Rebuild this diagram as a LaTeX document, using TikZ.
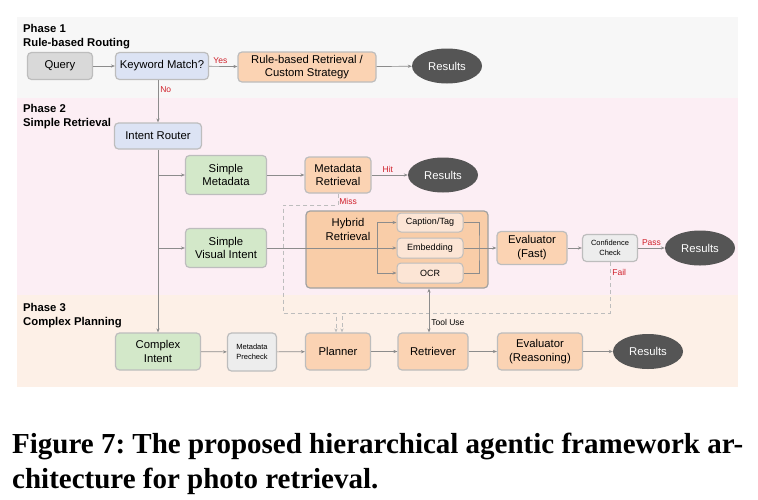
\documentclass[tikz,border=0pt]{standalone}
\usepackage{fontspec}
\setmainfont{Liberation Sans}
\newfontfamily\capfont{Liberation Serif}
\usepackage{xcolor}
\usetikzlibrary{arrows.meta,positioning,shapes.geometric,calc}
\frenchspacing
\definecolor{bandOne}{HTML}{F7F7F7}
\definecolor{bandTwo}{HTML}{FCEEF4}
\definecolor{bandThree}{HTML}{FDF0E7}
\definecolor{boxGrey}{HTML}{D9D9D9}
\definecolor{boxBlue}{HTML}{DCE3F4}
\definecolor{boxOrange}{HTML}{FBD3B3}
\definecolor{boxHybrid}{HTML}{F9CDA8}
\definecolor{boxGreen}{HTML}{D3E8C9}
\definecolor{boxLight}{HTML}{FCE5D5}
\definecolor{boxCheck}{HTML}{EDEDED}
\definecolor{boxDark}{HTML}{555555}
\definecolor{lineGrey}{HTML}{8C8C8C}
\definecolor{edgeGrey}{HTML}{BDBDBD}
\definecolor{labRed}{HTML}{D0202A}

\begin{document}
\begin{tikzpicture}[
  x=1pt, y=-1pt, >={Stealth[length=4pt,width=3.2pt]},
  sz/.style 2 args={minimum width=#1pt, minimum height=#2pt},
  box/.style={draw=edgeGrey, line width=1.2pt, rounded corners=4pt, align=center, inner sep=1pt, font=\fontsize{11.3}{13.5}\selectfont},
  small/.style={font=\fontsize{7.5}{10}\selectfont},
  res/.style={ellipse, fill=boxDark, text=white, inner sep=0pt, sz={70}{35}, font=\fontsize{11.3}{13.5}\selectfont},
  conn/.style={draw=lineGrey, line width=0.7pt},
  missline/.style={draw=edgeGrey, line width=0.8pt, dash pattern=on 4pt off 3pt, ->},
  lab/.style={font=\fontsize{8.5}{10}\selectfont, text=labRed, inner sep=2pt},
  phase/.style={font=\bfseries\fontsize{11.3}{14}\selectfont, align=left, anchor=north west, inner sep=0pt}
]
\useasboundingbox (0,0) rectangle (758,499);
% phase bands
\fill[bandOne] (17,17) rectangle (738,98);
\fill[bandTwo] (17,98) rectangle (738,295);
\fill[bandThree] (17,295) rectangle (738,387);
\node[phase] (p1) at (23,24) {Phase 1\\Rule-based Routing};
\node[phase] (p2) at (23,104) {Phase 2\\Simple Retrieval};
\node[phase] (p3) at (23,303) {Phase 3\\Complex Planning};

% phase 1
\node[box, sz={65}{27}, fill=boxGrey] (query) at (60,66) {Query};
\node[box, sz={93}{27}, fill=boxBlue] (kw) at (162,66) {Keyword Match?};
\node[box, sz={138}{30}, fill=boxOrange] (rule) at (307,67) {Rule-based Retrieval /\\Custom Strategy};
\node[res] (res1) at (447,66) {Results};

% phase 2
\node[box, sz={87}{26}, fill=boxBlue] (router) at (158,136) {Intent Router};
\node[box, sz={81}{39}, fill=boxGreen] (smeta) at (226,175) {Simple\\Metadata};
\node[box, sz={66}{36}, fill=boxOrange] (metaret) at (338,175) {Metadata\\Retrieval};
\node[res] (res2) at (443,175) {Results};
\node[box, sz={81}{39}, fill=boxGreen] (svis) at (226,248) {Simple\\Visual Intent};
\node[box, sz={182}{77}, fill=boxHybrid, draw=edgeGrey!85!black] (hyb) at (397,249.5) {};
\node[align=center, font=\fontsize{11.3}{14}\selectfont] (hyblab) at (348,229) {Hybrid\\Retrieval};
\node[box, sz={66}{19}, fill=boxLight, line width=1pt, font=\fontsize{9}{11}\selectfont] (cap) at (430,222.5) {Caption/Tag};
\node[box, sz={66}{20}, fill=boxLight, line width=1pt, font=\fontsize{9}{11}\selectfont] (emb) at (430,248) {Embedding};
\node[box, sz={66}{20}, fill=boxLight, line width=1pt, font=\fontsize{9}{11}\selectfont] (ocr) at (430,273) {OCR};
\node[box, sz={70}{33}, fill=boxOrange, font=\fontsize{11.3}{14}\selectfont] (evfast) at (532,248) {Evaluator\\(Fast)};
\node[box, sz={55}{27}, fill=boxCheck, small] (conf) at (610,248) {Confidence\\Check};
\node[res] (res3) at (700,248) {Results};

% phase 3
\node[box, sz={85}{37}, fill=boxGreen] (complex) at (158,351.5) {Complex\\Intent};
\node[box, sz={49}{38}, fill=boxCheck, small] (precheck) at (252,352) {Metadata\\Precheck};
\node[box, sz={65}{37}, fill=boxOrange] (planner) at (338,351.5) {Planner};
\node[box, sz={70}{37}, fill=boxOrange] (retr) at (433,351.5) {Retriever};
\node[box, sz={85}{37}, fill=boxOrange] (evreason) at (540,351.5) {Evaluator\\(Reasoning)};
\node[res] (res4) at (648,351.5) {Results};

% turning points
\coordinate (split) at (377,248);
\coordinate (merge) at (479,248);
\coordinate (mc) at (283,205);
\coordinate (ml) at (336,313);
\coordinate (fr) at (342,313);
\coordinate (tu) at (429,310);

% connectors
\draw[conn, ->] (query) -- (kw);
\draw[conn, ->] (kw) -- node[lab, above, pos=0.4]{Yes} (rule);
\draw[conn, ->] (rule) -- (res1);
\draw[conn, ->] (kw.south -| router) -- node[lab, right, pos=0.23]{No} (router.north);
\draw[conn, ->] (router) -- (complex);
\draw[conn, ->] (router |- smeta) -- (smeta);
\draw[conn, ->] (router |- svis) -- (svis);
\draw[conn, ->] (smeta) -- (metaret);
\draw[conn, ->] (metaret) -- node[lab, above, pos=0.45]{Hit} (res2);
\draw[conn, ->] (svis) -- (emb);
\draw[conn, ->] (split) |- (cap);
\draw[conn, ->] (split) |- (ocr);
\draw[conn] (cap) -| (merge) |- (ocr);
\draw[conn, ->] (emb) -- (evfast);
\draw[conn, ->] (evfast) -- (conf);
\draw[conn, ->] (conf) -- node[lab, above]{Pass} (res3);
\draw[missline] (metaret.south) |- node[lab, right, pos=0.35, inner sep=1pt]{Miss} (mc) |- (ml) -- (ml |- planner.north);
\draw[missline] (conf.south) |- node[lab, right, pos=0.1, inner sep=2pt]{Fail} (fr) -- (fr |- planner.north);
\draw[conn, <->] (tu |- hyb.south) -- node[right, pos=0.77, font=\fontsize{8.5}{10}\selectfont, inner sep=2pt]{Tool Use} (tu |- retr.north);
\draw[conn, ->] (complex) -- (precheck);
\draw[conn, ->] (precheck) -- (planner);
\draw[conn, ->] (planner) -- (retr);
\draw[conn, ->] (retr) -- (evreason);
\draw[conn, ->] (evreason) -- (res4);

% caption
\node[anchor=base west, align=left, inner sep=0pt, font=\capfont\bfseries\fontsize{29}{35}\selectfont] (caption) at (12,488)
  {Figure 7: The proposed hierarchical agentic framework ar-\\chitecture for photo retrieval.};
\end{tikzpicture}
\end{document}
